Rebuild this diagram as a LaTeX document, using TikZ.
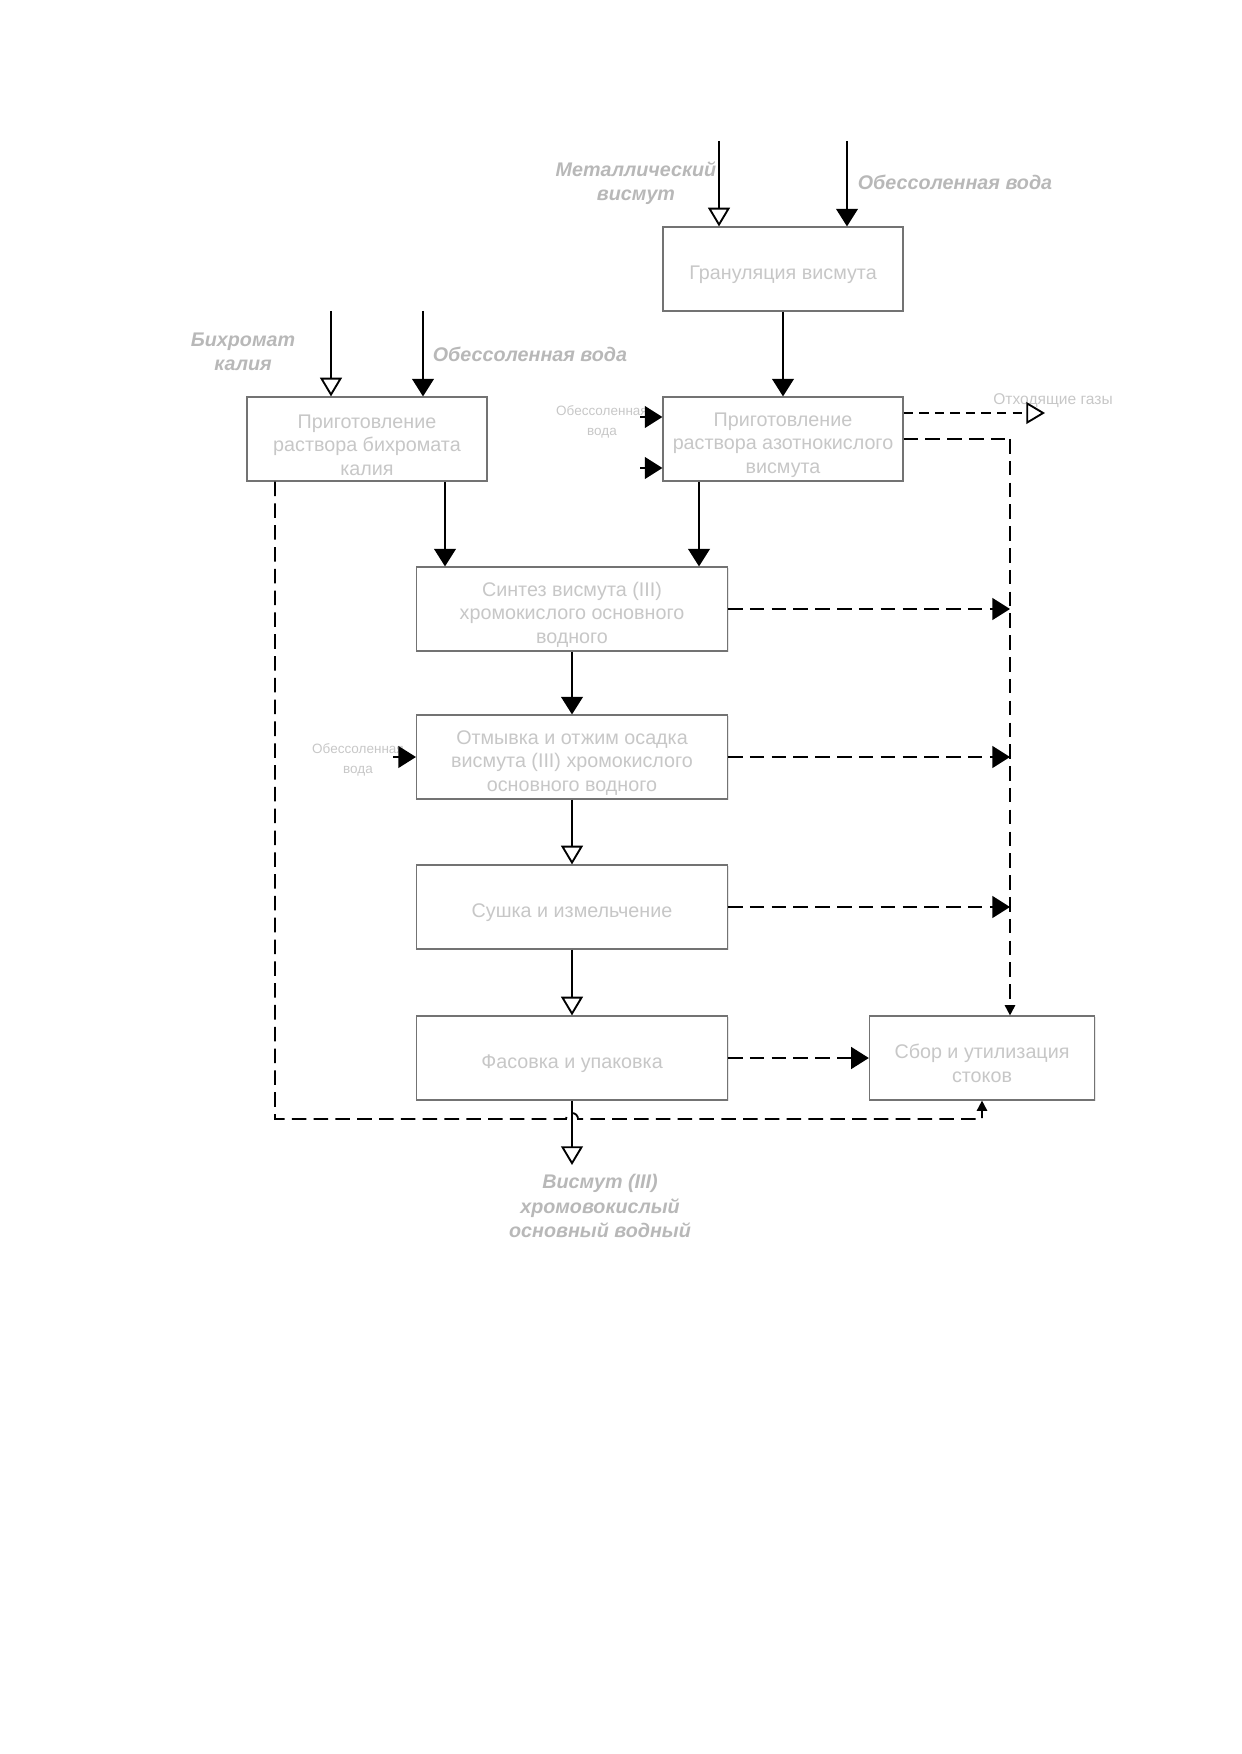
\documentclass[tikz,border=0pt]{standalone}
\usepackage{fontspec}
\setmainfont{Liberation Sans}
\usetikzlibrary{arrows.meta,shadows}

\newcommand\lift{\rule{0pt}{12.3pt}}

\tikzset{
  proc/.style={draw=black!55, line width=0.6pt, fill=white, minimum width=40.6mm,
    minimum height=14.2mm, align=center, text=black!22, inner sep=1pt,
    font=\fontsize{9.5}{11.3}\selectfont,
    drop shadow={shadow xshift=0.6pt, shadow yshift=-0.6pt, opacity=0.18}},
  lbl/.style={align=center, text=black!28, inner sep=0pt,
    font=\fontsize{9.5}{11.6}\selectfont\bfseries\itshape},
  tiny/.style={align=center, text=black!22, inner sep=0pt,
    font=\fontsize{6.5}{9.5}\selectfont},
  flow/.style={line width=0.9pt},
  fa/.style={flow, -{Triangle[length=8.5pt,width=10.5pt]}},
  oa/.style={flow, -{Triangle[open,length=9pt,width=10.5pt,fill=white]}},
  sa/.style={-{Triangle[length=5pt,width=5pt]}},
  waste/.style={flow, dash pattern=on 7pt off 3.5pt},
}

\begin{document}
\begin{tikzpicture}[x=0.16922mm, y=-0.16922mm]%
    \useasboundingbox (0,0) rectangle (1241,1754);

    \node[proc] (gran) at (783,269) {\lift Грануляция висмута};
    \node[proc] (bich) at (367,439) {\lift Приготовление\\раствора бихромата\\калия};
    \node[proc] (nitr) at (783,439) {\lift Приготовление\\раствора азотнокислого\\висмута};
    \node[proc, minimum width=52.6mm] (synt) at (572,609) {\lift Синтез висмута (III)\\хромокислого основного\\водного};
    \node[proc, minimum width=52.6mm] (wash) at (572,757) {\lift Отмывка и отжим осадка\\висмута (III) хромокислого\\основного водного};
    \node[proc, minimum width=52.6mm] (dry) at (572,907) {\lift Сушка и измельчение};
    \node[proc, minimum width=52.6mm] (pack) at (572,1058) {\lift Фасовка и упаковка};
    \node[proc, minimum width=38.1mm] (coll) at (982,1058) {\lift Сбор и утилизация\\стоков};

    \node[lbl] (metal) at (636,183) {Металлический\\висмут};
    \node[lbl] (wat1) at (955,182) {Обессоленная вода};
    \node[lbl] (kbich) at (243,352) {Бихромат\\калия};
    \node[lbl] (wat2) at (530,354) {Обессоленная вода};
    \node[tiny] (wat3) at (602,422) {Обессоленная\\вода};
    \node[tiny] (wat4) at (358,760) {Обессоленная\\вода};
    \node[tiny, font=\fontsize{7.5}{8.5}\selectfont] (gas) at (1053,401) {Отходящие газы};
    \node[lbl] (prod) at (600,1206) {Висмут (III)\\хромовокислый\\основный водный};

    \coordinate (in1) at (719,141);
    \coordinate (in2) at (847,141);
    \coordinate (in3) at (331,311);
    \coordinate (in4) at (423,311);
    \coordinate (in5) at (640,417);
    \coordinate (in6) at (640,468);
    \coordinate (in7) at (393,757);
    \coordinate (gasend) at (1045,413);
    \coordinate (out) at (572,1165);
    \coordinate (rc) at (1010,439);
    \coordinate (lc) at (275,1119);

    \draw[oa] (in1) -- (in1 |- gran.north);
    \draw[fa] (in2) -- (in2 |- gran.north);
    \draw[oa] (in3) -- (in3 |- bich.north);
    \draw[fa] (in4) -- (in4 |- bich.north);
    \draw[fa] (gran) -- (nitr);
    \draw[fa] (445,0 |- bich.south) -- (445,0 |- synt.north);
    \draw[fa] (699,0 |- nitr.south) -- (699,0 |- synt.north);
    \draw[fa] (in5) -- (in5 -| nitr.west);
    \draw[fa] (in6) -- (in6 -| nitr.west);
    \draw[fa] (synt) -- (wash);
    \draw[fa] (in7) -- (wash.west);
    \draw[oa] (wash) -- (dry);
    \draw[oa] (dry) -- (pack);
    \draw[oa] (pack) -- (out);

    \draw[flow, dash pattern=on 4.5pt off 3pt, -{Triangle[open,length=9pt,width=10.5pt,fill=white]}]
        (gasend -| nitr.east) -- (gasend);
    \draw[waste] (rc -| nitr.east) -- (rc);
    \draw[waste, sa] (rc) -- (rc |- coll.north);
    \draw[waste, -{Triangle[length=8.5pt,width=10.5pt]}] (synt.east) -- (synt.east -| rc);
    \draw[waste, -{Triangle[length=8.5pt,width=10.5pt]}] (wash.east) -- (wash.east -| rc);
    \draw[waste, -{Triangle[length=8.5pt,width=10.5pt]}] (dry.east) -- (dry.east -| rc);
    \draw[waste, -{Triangle[length=8.5pt,width=10.5pt]}] (pack) -- (coll);
    \draw[waste, sa] (lc |- bich.south) -- (lc) -- (566,1119) arc (180:360:6) -- (coll.south |- lc) -- (coll.south);
\end{tikzpicture}
\end{document}
